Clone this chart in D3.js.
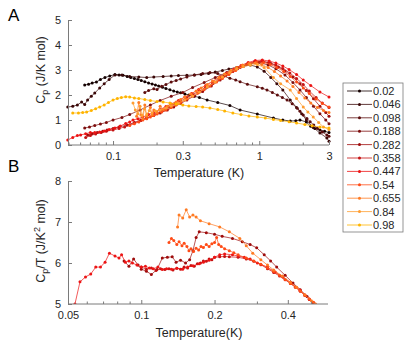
<!DOCTYPE html>
<html>
<head>
<meta charset="utf-8">
<script src="https://cdn.jsdelivr.net/npm/d3@7"></script>
<style>
body { margin: 0; background: #fff; }
svg { font-family: "Liberation Sans", Arial, sans-serif; }
.axis path, .axis line { stroke: #7a7a7a; }
.axis text { fill: #262626; font-size: 11px; }
</style>
</head>
<body>
<div id="chart"></div>
<script>
// doping levels shown in the legend
var dopings = ["0.02", "0.046", "0.098", "0.188", "0.282", "0.358", "0.447", "0.54", "0.655", "0.84", "0.98"];
var colors = ["#140000", "#3a0707", "#5c0d0d", "#7d0e0e", "#9e0c0c", "#c41212", "#ec1414", "#ff4b16", "#ff7a22", "#ff9d30", "#ffb400"];

// panel A: [T (K), Cp (J/K mol)]
var a002 = [[0.064,2.40],[0.068,2.43],[0.072,2.48],[0.077,2.52],[0.082,2.62],[0.088,2.70],[0.095,2.76],[0.103,2.82],[0.11,2.80],[0.117,2.79],[0.125,2.74],[0.132,2.70],[0.14,2.66],[0.148,2.62],[0.156,2.58],[0.165,2.53],[0.175,2.48],[0.185,2.44],[0.195,2.40],[0.205,2.36],[0.218,2.31],[0.23,2.26],[0.245,2.21],[0.26,2.16],[0.275,2.12],[0.29,2.09],[0.31,2.04],[0.33,2.00],[0.36,1.95],[0.39,1.90],[0.44,1.80],[0.52,1.70],[0.63,1.58],[0.74,1.40],[0.97,1.24],[1.25,1.08],[1.45,1.00],[1.63,0.96],[1.78,0.97],[1.9,1.00],[2.1,0.92],[2.25,0.75],[2.4,0.66],[2.6,0.60],[2.8,0.55],[3.0,0.50]];
var a0046 = [[0.049,1.52],[0.053,1.55],[0.057,1.60],[0.061,1.72],[0.064,1.62],[0.067,1.80],[0.071,1.95],[0.075,2.08],[0.081,2.28],[0.087,2.45],[0.094,2.62],[0.103,2.80],[0.115,2.80],[0.13,2.74],[0.15,2.72],[0.17,2.70],[0.19,2.72],[0.22,2.74],[0.25,2.76],[0.28,2.78],[0.32,2.79],[0.36,2.80],[0.4,2.82],[0.45,2.86],[0.5,2.92],[0.56,2.98],[0.62,3.04],[0.7,3.10],[0.78,3.15],[0.87,3.20],[0.97,3.12],[1.08,2.95],[1.2,2.70],[1.32,2.45],[1.45,2.20],[1.63,1.80],[1.8,1.50],[1.95,1.25],[2.1,1.00],[2.34,0.70],[2.6,0.48],[2.9,0.28],[3.0,0.15]];
var a0098 = [[0.165,2.10],[0.175,2.18],[0.19,2.25],[0.2,2.22],[0.215,2.35],[0.23,2.42],[0.25,2.52],[0.27,2.58],[0.29,2.64],[0.32,2.72],[0.36,2.80],[0.41,2.86],[0.46,2.90],[0.52,2.86],[0.57,2.76],[0.63,2.67],[0.69,2.60],[0.74,2.53],[0.83,2.43],[0.97,2.33],[1.05,2.27],[1.13,2.20],[1.23,2.10],[1.33,2.00],[1.44,1.90],[1.55,1.80],[1.68,1.65],[1.82,1.47],[1.9,1.35],[2.0,1.20],[2.12,1.06],[2.23,0.93],[2.36,0.80],[2.5,0.67],[2.7,0.52],[2.9,0.40],[3.0,0.35]];
var a0188 = [[0.064,0.68],[0.069,0.72],[0.075,0.78],[0.082,0.84],[0.09,0.90],[0.1,1.00],[0.115,1.10],[0.13,1.22],[0.153,1.40],[0.18,1.60],[0.21,1.78],[0.25,1.95],[0.3,2.10],[0.35,2.30],[0.42,2.50],[0.5,2.70],[0.6,2.90],[0.72,3.10],[0.85,3.25],[1.0,3.30],[1.15,3.20],[1.3,3.05],[1.5,2.80],[1.7,2.50],[1.9,2.20],[2.1,1.90],[2.35,1.55],[2.6,1.25],[2.85,1.00],[3.0,0.85]];
var a0282 = [[0.067,0.40],[0.072,0.45],[0.078,0.50],[0.085,0.55],[0.091,0.60],[0.1,0.66],[0.11,0.72],[0.125,0.80],[0.14,0.90],[0.155,1.00],[0.17,1.08],[0.19,1.18],[0.21,1.28],[0.235,1.40],[0.26,1.52],[0.29,1.66],[0.32,1.80],[0.36,1.96],[0.41,2.14],[0.47,2.36],[0.54,2.60],[0.62,2.84],[0.71,3.05],[0.82,3.22],[0.94,3.32],[1.06,3.34],[1.2,3.26],[1.35,3.12],[1.5,2.96],[1.7,2.72],[1.9,2.45],[2.1,2.18],[2.35,1.85],[2.6,1.55],[2.85,1.30],[3.0,1.15]];
var a0358 = [[0.065,0.30],[0.07,0.38],[0.076,0.44],[0.083,0.50],[0.09,0.55],[0.1,0.60],[0.11,0.66],[0.12,0.72],[0.13,0.80],[0.14,0.88],[0.155,0.98],[0.17,1.08],[0.185,1.18],[0.2,1.28],[0.22,1.40],[0.24,1.52],[0.265,1.64],[0.29,1.76],[0.32,1.90],[0.35,2.02],[0.39,2.16],[0.43,2.30],[0.48,2.46],[0.53,2.62],[0.59,2.78],[0.66,2.94],[0.74,3.10],[0.83,3.24],[0.93,3.34],[1.04,3.36],[1.16,3.30],[1.3,3.20],[1.45,3.06],[1.62,2.88],[1.8,2.66],[2.0,2.42],[2.2,2.16],[2.45,1.90],[2.7,1.68],[3.0,1.50]];
var a0447 = [[0.049,0.20],[0.053,0.30],[0.057,0.38],[0.06,0.40],[0.065,0.45],[0.07,0.50],[0.075,0.50],[0.081,0.52],[0.087,0.56],[0.094,0.62],[0.103,0.68],[0.112,0.76],[0.122,0.86],[0.13,0.92],[0.137,1.00],[0.148,1.05],[0.16,1.12],[0.175,1.22],[0.19,1.30],[0.21,1.42],[0.23,1.54],[0.25,1.64],[0.28,1.78],[0.31,1.92],[0.345,2.06],[0.385,2.22],[0.43,2.38],[0.48,2.54],[0.54,2.72],[0.6,2.88],[0.67,3.04],[0.75,3.18],[0.84,3.30],[0.94,3.38],[1.05,3.40],[1.17,3.36],[1.3,3.28],[1.45,3.16],[1.6,3.02],[1.8,2.82],[2.0,2.60],[2.25,2.38],[2.6,2.12],[3.0,1.92]];
var a054 = [[0.13,0.78],[0.14,0.85],[0.15,0.92],[0.16,1.00],[0.17,1.05],[0.18,1.12],[0.19,1.18],[0.2,1.24],[0.215,1.32],[0.23,1.40],[0.25,1.50],[0.27,1.60],[0.29,1.70],[0.32,1.84],[0.35,1.96],[0.38,2.08],[0.42,2.22],[0.46,2.36],[0.51,2.52],[0.56,2.66],[0.62,2.82],[0.69,2.98],[0.77,3.14],[0.86,3.26],[0.96,3.32],[1.07,3.30],[1.19,3.22],[1.32,3.10],[1.47,2.94],[1.63,2.74],[1.8,2.52],[2.0,2.28],[2.2,2.06],[2.45,1.84],[2.7,1.66],[3.0,1.52]];
var a0655 = [[0.145,1.15],[0.15,1.70],[0.155,1.20],[0.16,1.05],[0.165,1.60],[0.17,1.15],[0.18,1.50],[0.185,1.20],[0.19,1.40],[0.2,1.30],[0.21,1.55],[0.22,1.42],[0.235,1.55],[0.25,1.62],[0.27,1.72],[0.29,1.82],[0.31,1.92],[0.34,2.04],[0.37,2.16],[0.4,2.28],[0.44,2.42],[0.48,2.56],[0.53,2.70],[0.58,2.84],[0.64,2.98],[0.7,3.10],[0.77,3.20],[0.85,3.26],[0.94,3.28],[1.04,3.22],[1.15,3.10],[1.27,2.94],[1.4,2.76],[1.55,2.56],[1.7,2.34],[1.87,2.10],[2.05,1.88],[2.25,1.68],[2.5,1.50],[2.75,1.38],[3.0,1.30]];
var a084 = [[0.137,1.68],[0.142,1.40],[0.148,1.25],[0.153,1.55],[0.158,1.18],[0.164,1.45],[0.17,1.22],[0.177,1.38],[0.185,1.28],[0.195,1.36],[0.21,1.40],[0.23,1.48],[0.25,1.56],[0.28,1.68],[0.31,1.80],[0.35,1.96],[0.39,2.12],[0.44,2.32],[0.5,2.52],[0.56,2.72],[0.63,2.90],[0.7,3.04],[0.78,3.14],[0.87,3.20],[0.97,3.22],[1.08,3.10],[1.25,2.70],[1.4,2.45],[1.63,2.20],[1.8,1.86],[2.0,1.52],[2.15,1.32],[2.34,1.12],[2.55,0.90],[2.75,0.72],[3.0,0.62]];
var a098 = [[0.053,1.28],[0.058,1.28],[0.062,1.30],[0.066,1.32],[0.071,1.38],[0.076,1.45],[0.081,1.52],[0.087,1.60],[0.093,1.70],[0.1,1.80],[0.107,1.86],[0.114,1.90],[0.122,1.93],[0.13,1.92],[0.14,1.88],[0.15,1.86],[0.165,1.82],[0.18,1.78],[0.2,1.74],[0.22,1.72],[0.245,1.68],[0.27,1.64],[0.3,1.60],[0.33,1.56],[0.37,1.54],[0.41,1.52],[0.46,1.48],[0.52,1.42],[0.58,1.36],[0.66,1.28],[0.75,1.22],[0.85,1.16],[0.97,1.12],[1.1,1.08],[1.25,1.02],[1.4,0.98],[1.6,0.93],[1.8,0.88],[2.05,0.82],[2.3,0.77],[2.6,0.72],[3.0,0.68]];
var seriesA = [a002, a0046, a0098, a0188, a0282, a0358, a0447, a054, a0655, a084, a098];

// panel B: [T (K), Cp/T (J/K^2 mol)], only some dopings
var b0282 = [[0.085,6.05],[0.089,5.92],[0.093,6.10],[0.097,5.95],[0.1,5.85],[0.105,5.80],[0.11,5.72],[0.116,5.84],[0.122,6.12],[0.128,6.14],[0.134,6.15],[0.139,6.02],[0.145,6.07],[0.152,6.00],[0.158,6.08],[0.163,6.30],[0.168,6.62],[0.173,6.76],[0.185,6.74],[0.2,6.70],[0.215,6.65],[0.237,6.60],[0.26,6.52],[0.28,6.45],[0.298,6.37],[0.32,6.20],[0.34,6.05],[0.36,5.90],[0.39,5.70],[0.42,5.51],[0.45,5.35],[0.48,5.18],[0.51,5.02]];
var b0358 = [[0.1,5.90],[0.105,5.85],[0.11,5.88],[0.115,5.82],[0.12,5.86],[0.125,5.84],[0.13,5.86],[0.135,5.83],[0.14,5.87],[0.145,5.85],[0.15,5.90],[0.155,5.88],[0.16,5.94],[0.165,5.92],[0.17,5.98],[0.175,6.00],[0.18,6.05],[0.185,6.04],[0.19,6.10],[0.195,6.08],[0.2,6.14],[0.21,6.15],[0.22,6.16],[0.23,6.15],[0.25,6.14],[0.27,6.10],[0.29,6.04],[0.31,5.96],[0.33,5.86],[0.35,5.77],[0.37,5.68],[0.39,5.59],[0.41,5.50],[0.43,5.41],[0.45,5.31],[0.47,5.21],[0.49,5.11],[0.51,5.03]];
var b0447 = [[0.0534,5.00],[0.056,5.54],[0.059,5.66],[0.062,5.73],[0.065,5.90],[0.068,5.90],[0.071,6.02],[0.074,6.24],[0.078,6.17],[0.081,6.12],[0.083,6.20],[0.086,6.02],[0.089,6.05],[0.092,6.00],[0.096,5.95],[0.1,5.90],[0.104,5.92],[0.108,5.88],[0.112,5.86],[0.117,5.90],[0.122,5.84],[0.127,5.86],[0.133,5.85],[0.14,5.87],[0.148,5.85],[0.155,5.90],[0.163,5.93],[0.173,5.98],[0.18,6.02],[0.19,6.07],[0.2,6.14],[0.21,6.20],[0.22,6.22],[0.237,6.20],[0.25,6.17],[0.265,6.14],[0.28,6.10],[0.3,6.00],[0.33,5.90],[0.355,5.78],[0.382,5.66],[0.41,5.52],[0.448,5.34],[0.47,5.22],[0.49,5.12],[0.517,5.00]];
var b054 = [[0.13,6.50],[0.133,6.60],[0.136,6.55],[0.14,6.45],[0.143,6.52],[0.147,6.42],[0.15,6.48],[0.154,6.40],[0.157,6.30],[0.16,6.35],[0.164,6.28],[0.168,6.36],[0.172,6.32],[0.176,6.40],[0.18,6.38],[0.185,6.45],[0.19,6.40],[0.195,6.47],[0.2,6.50],[0.204,6.62],[0.208,6.45],[0.213,6.40],[0.22,6.35],[0.23,6.30],[0.24,6.25],[0.25,6.20],[0.27,6.12],[0.29,6.05],[0.31,5.97],[0.33,5.88],[0.35,5.79],[0.37,5.70],[0.39,5.60],[0.41,5.50],[0.43,5.41],[0.45,5.32],[0.47,5.22],[0.49,5.12],[0.51,5.04]];
var b0655 = [[0.141,6.88],[0.143,7.17],[0.148,7.10],[0.153,7.30],[0.158,7.12],[0.163,7.17],[0.168,7.12],[0.175,7.03],[0.19,6.96],[0.21,6.88],[0.23,6.76],[0.254,6.60],[0.27,6.42],[0.287,6.24],[0.31,6.08],[0.33,5.95],[0.35,5.83],[0.38,5.68],[0.41,5.53],[0.435,5.41],[0.47,5.22],[0.5,5.08],[0.52,5.00]];
var seriesB = [b0282, b0358, b0447, b054, b0655];
var colorIdxB = [4, 5, 6, 7, 8];

var ticksA_x = [0.1, 0.3, 1, 3];
var ticksA_y = [0, 1, 2, 3, 4, 5];
var ticksB_x = [0.05, 0.1, 0.2, 0.4];
var ticksB_y = [5, 6, 7, 8];
var minorA = [0.05, 0.06, 0.07, 0.08, 0.09, 0.2, 0.4, 0.5, 0.6, 0.7, 0.8, 0.9, 2];
var minorB = [0.06, 0.07, 0.08, 0.09, 0.3, 0.5];

var W = 415, H = 343;
var svg = d3.select("#chart").append("svg")
    .attr("width", W)
    .attr("height", H);

function drawPanel(opt) {
    var x = d3.scaleLog().domain(opt.xDomain).range([opt.left, opt.right]);
    var y = d3.scaleLinear().domain(opt.yDomain).range([opt.bottom, opt.top]);

    var clipId = "clip" + opt.name;
    svg.append("clipPath").attr("id", clipId)
        .append("rect")
        .attr("x", opt.left - 2).attr("y", opt.top - 2)
        .attr("width", opt.right - opt.left + 4)
        .attr("height", opt.bottom - opt.top + 2);

    var g = svg.append("g").attr("clip-path", "url(#" + clipId + ")");
    var line = d3.line()
        .x(function (d) { return x(d[0]); })
        .y(function (d) { return y(d[1]); });

    opt.series.forEach(function (s, i) {
        var c = colors[opt.colorIdx[i]];
        g.append("path")
            .datum(s)
            .attr("d", line)
            .attr("fill", "none")
            .attr("stroke", c)
            .attr("stroke-width", 0.7);
        g.selectAll(null)
            .data(s)
            .enter().append("circle")
            .attr("cx", function (d) { return x(d[0]); })
            .attr("cy", function (d) { return y(d[1]); })
            .attr("r", 1.5)
            .attr("fill", c);
    });

    // x axis, ticks point inward like matlab
    var xAxis = d3.axisBottom(x)
        .tickValues(opt.xTicks)
        .tickFormat(function (d) { return d3.format("")(d); })
        .tickSizeInner(-4).tickSizeOuter(0).tickPadding(7);
    var gx = svg.append("g")
        .attr("class", "axis")
        .attr("transform", "translate(0," + opt.bottom + ")")
        .call(xAxis);
    gx.select(".domain").attr("d", "M" + opt.left + ",0H" + opt.right);
    gx.selectAll(".minor")
        .data(opt.minor)
        .enter().append("line")
        .attr("class", "minor")
        .attr("x1", function (d) { return x(d); })
        .attr("x2", function (d) { return x(d); })
        .attr("y1", 0).attr("y2", -2.5)
        .attr("stroke", "#7a7a7a");

    var yAxis = d3.axisLeft(y)
        .tickValues(opt.yTicks)
        .tickFormat(d3.format("d"))
        .tickSizeInner(-4).tickSizeOuter(0).tickPadding(7);
    svg.append("g")
        .attr("class", "axis")
        .attr("transform", "translate(" + opt.left + ",0)")
        .call(yAxis);

    svg.append("text")
        .attr("x", opt.xLabelX).attr("y", opt.xLabelY)
        .attr("text-anchor", "middle")
        .attr("font-size", 12.5)
        .attr("fill", "#262626")
        .text(opt.xLabel);

    var yl = svg.append("text")
        .attr("transform", "translate(45," + opt.yLabelY + ") rotate(-90)")
        .attr("text-anchor", "middle")
        .attr("font-size", 12.5)
        .attr("fill", "#262626");
    opt.yLabel(yl);

    svg.append("text")
        .attr("x", 8).attr("y", opt.letterY)
        .attr("font-size", 17)
        .attr("fill", "#000")
        .text(opt.name);
}

drawPanel({
    name: "A",
    series: seriesA,
    colorIdx: d3.range(11),
    xDomain: [0.0492, 3], yDomain: [0, 5],
    left: 68, right: 329, top: 20, bottom: 145,
    xTicks: ticksA_x, yTicks: ticksA_y, minor: minorA,
    xLabel: "Temperature (K)", xLabelX: 199, xLabelY: 177,
    yLabelY: 70,
    yLabel: function (t) {
        t.append("tspan").text("C");
        t.append("tspan").attr("font-size", 9).attr("dy", 3).text("p");
        t.append("tspan").attr("dy", -3).text(" (J/K mol)");
    },
    letterY: 21
});

drawPanel({
    name: "B",
    series: seriesB,
    colorIdx: colorIdxB,
    xDomain: [0.05, 0.585], yDomain: [5, 8],
    left: 68, right: 328, top: 181, bottom: 304,
    xTicks: ticksB_x, yTicks: ticksB_y, minor: minorB,
    xLabel: "Temperature(K)", xLabelX: 199, xLabelY: 337,
    yLabelY: 241,
    yLabel: function (t) {
        t.append("tspan").text("C");
        t.append("tspan").attr("font-size", 9).attr("dy", 3).text("p");
        t.append("tspan").attr("dy", -3).text("/T (J/K");
        t.append("tspan").attr("font-size", 9).attr("dy", -5).text("2");
        t.append("tspan").attr("dy", 5).text(" mol)");
    },
    letterY: 172
});

// legend
var legend = svg.append("g").attr("transform", "translate(343,83)");
legend.append("rect")
    .attr("width", 60).attr("height", 149)
    .attr("fill", "#fff")
    .attr("stroke", "#7a7a7a")
    .attr("stroke-width", 0.8);
var item = legend.selectAll(".item")
    .data(dopings)
    .enter().append("g")
    .attr("class", "item")
    .attr("transform", function (d, i) { return "translate(0," + (8 + i * 13.4) + ")"; });
item.append("line")
    .attr("x1", 4).attr("x2", 29)
    .attr("stroke", function (d, i) { return colors[i]; })
    .attr("stroke-width", 0.8);
item.append("circle")
    .attr("cx", 16.5).attr("r", 1.5)
    .attr("fill", function (d, i) { return colors[i]; });
item.append("text")
    .attr("x", 30).attr("y", 4)
    .attr("font-size", 11)
    .attr("fill", "#262626")
    .text(function (d) { return d; });
</script>
</body>
</html>
